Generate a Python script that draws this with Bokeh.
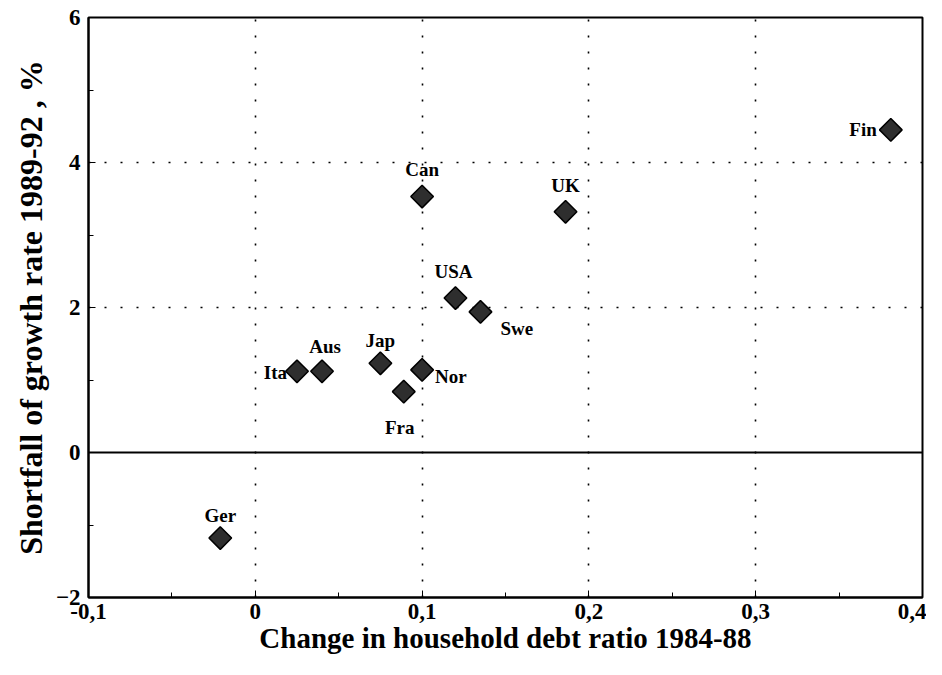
import math
from bokeh.plotting import figure
from bokeh.models import Span, FixedTicker, CustomJSTickFormatter, ColumnDataSource
from bokeh.core.properties import value
from bokeh.embed import file_html
from bokeh.resources import INLINE

countries = ["Fin", "Can", "UK", "USA", "Swe", "Jap", "Nor", "Fra", "Ita", "Aus", "Ger"]
debt_change = [0.381, 0.100, 0.186, 0.120, 0.135, 0.075, 0.100, 0.089, 0.025, 0.040, -0.021]
growth_shortfall = [4.45, 3.53, 3.32, 2.13, 1.94, 1.23, 1.14, 0.84, 1.12, 1.12, -1.18]

x_ticks = [-0.1, 0.0, 0.1, 0.2, 0.3, 0.4]
y_ticks = [-2, 0, 2, 4, 6]
x_title = "Change in household debt ratio 1984-88"
y_title = "Shortfall of growth rate 1989-92 , %"

# label placement (layout only)
label_align = ["right", "center", "center", "center", "left", "center", "left", "center", "right", "center", "center"]
label_dx = [-14, 0, 0, -2, 20, 0, 13, -4, -10, 3, 0]
label_dy = [0, -27, -26, -27, 17, -23, 7, 36, 1, -25, -23]

FONT = "Liberation Serif"

p = figure(width=926, height=659, x_range=(-0.1, 0.4), y_range=(-2, 6),
           output_backend="svg", toolbar_location=None,
           min_border_left=88, min_border_right=4, min_border_top=17, min_border_bottom=62)
p.background_fill_color = "white"
p.border_fill_color = "white"
p.outline_line_color = "black"
p.outline_line_width = 2

xfmt = CustomJSTickFormatter(code="""
if (Math.abs(tick) < 1e-9) return '0';
return tick.toFixed(1).replace('.', ',');
""")
p.xaxis.ticker = FixedTicker(ticks=x_ticks, minor_ticks=[-0.05, 0.05, 0.15, 0.25, 0.35])
p.yaxis.ticker = FixedTicker(ticks=y_ticks, minor_ticks=[-1, 1, 3, 5])
p.xaxis.formatter = xfmt

for ax in (p.xaxis[0], p.yaxis[0]):
    ax.axis_line_color = "black"
    ax.axis_line_width = 2
    ax.major_tick_in = 7
    ax.major_tick_out = 0
    ax.minor_tick_in = 5
    ax.minor_tick_out = 0
    ax.major_label_text_font = FONT
    ax.major_label_text_font_style = "bold"
    ax.major_label_text_font_size = "23px"
    ax.major_label_text_color = "black"
    ax.axis_label_text_font = FONT
    ax.axis_label_text_font_style = "bold"
    ax.axis_label_text_color = "black"

p.xaxis.axis_label = x_title
p.yaxis.axis_label = y_title
p.xaxis.axis_label_text_font_size = "29px"
p.yaxis.axis_label_text_font_size = "32px"
p.xaxis.major_label_standoff = 6
p.yaxis.major_label_standoff = 8
p.xaxis.axis_label_standoff = 0
p.yaxis.axis_label_standoff = 4

p.xgrid.ticker = FixedTicker(ticks=[0.0, 0.1, 0.2, 0.3])
p.ygrid.ticker = FixedTicker(ticks=[2, 4])
for g in (p.xgrid[0], p.ygrid[0]):
    g.grid_line_color = "black"
    g.grid_line_width = 1.6
    g.grid_line_dash = "2 14"

p.add_layout(Span(location=0, dimension="width", line_color="black", line_width=2))

src = ColumnDataSource(dict(x=debt_change, y=growth_shortfall, name=countries,
                            align=label_align, dx=label_dx, dy=label_dy))

p.scatter("x", "y", source=src, marker="square", size=16, angle=math.pi / 4,
          fill_color="#2e2e2e", line_color="black", line_width=1.5)

p.text("x", "y", text="name", source=src, text_align="align", x_offset="dx", y_offset="dy",
       text_baseline="middle", text_font=value(FONT), text_font_style="bold",
       text_font_size="19px", text_color="black")

open("out.html", "w").write(file_html(p, INLINE))
